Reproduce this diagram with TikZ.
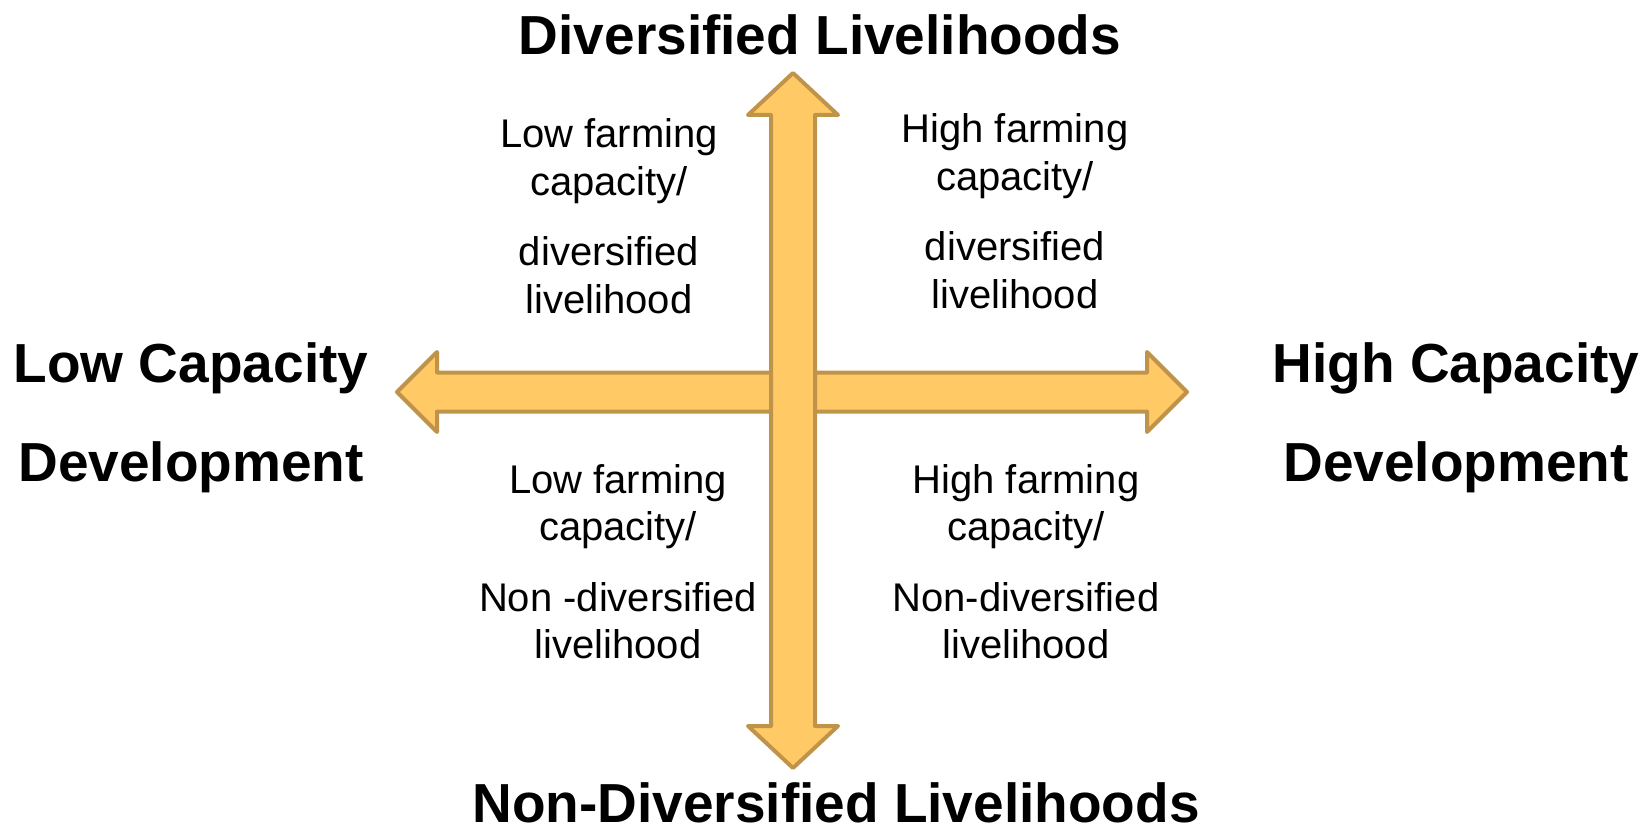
\documentclass[tikz,border=0pt]{standalone}
\usepackage{fontspec}
\setmainfont{Liberation Sans}

\definecolor{arrowfill}{HTML}{FFCA65}
\definecolor{arrowline}{HTML}{BF944A}

\begin{document}
\begin{tikzpicture}[x=1pt,y=-1pt,
  bigarrow/.style={fill=arrowfill,draw=arrowline,line width=4pt,line join=round},
  axislabel/.style={font=\fontsize{55}{99}\selectfont\bfseries,align=center,inner sep=0pt,anchor=base},
  quadtext/.style={font=\fontsize{40}{47.5}\selectfont,align=center,inner sep=0pt,anchor=base}]
  \useasboundingbox (0,0) rectangle (1647,826);

  % Draw the horizontal double arrow
  \draw[bigarrow] (397,392) -- (437,352) -- (437,372.5) -- (1147,372.5) -- (1147,352)
    -- (1187,392) -- (1147,432) -- (1147,411.5) -- (437,411.5) -- (437,432) -- cycle;

  % Draw the vertical double arrow on top
  \draw[bigarrow] (793,73) -- (838,115) -- (815,115) -- (815,726) -- (838,726)
    -- (793,768) -- (748,726) -- (771,726) -- (771,115) -- (748,115) -- cycle;

  % Axis labels (base = last line)
  \node[axislabel] (diverse) at (820,55) {Diversified Livelihoods};
  \node[axislabel] (nondiverse) at (836,822) {Non-Diversified Livelihoods};
  \node[axislabel] (lowcap) at (191,481) {Low Capacity\\Development};
  \node[axislabel] (highcap) at (1456,481) {High Capacity\\Development};

  % Quadrant texts
  \node[quadtext] (topleft) at (609,313.5) {Low farming\\capacity/\\[23pt]diversified\\livelihood};
  \node[quadtext] (topright) at (1015,308.5) {High farming\\capacity/\\[23pt]diversified\\livelihood};
  \node[quadtext] (botleft) at (618,658.5) {Low farming\\capacity/\\[23pt]Non -diversified\\livelihood};
  \node[quadtext] (botright) at (1026,658.5) {High farming\\capacity/\\[23pt]Non-diversified\\livelihood};
\end{tikzpicture}
\end{document}
